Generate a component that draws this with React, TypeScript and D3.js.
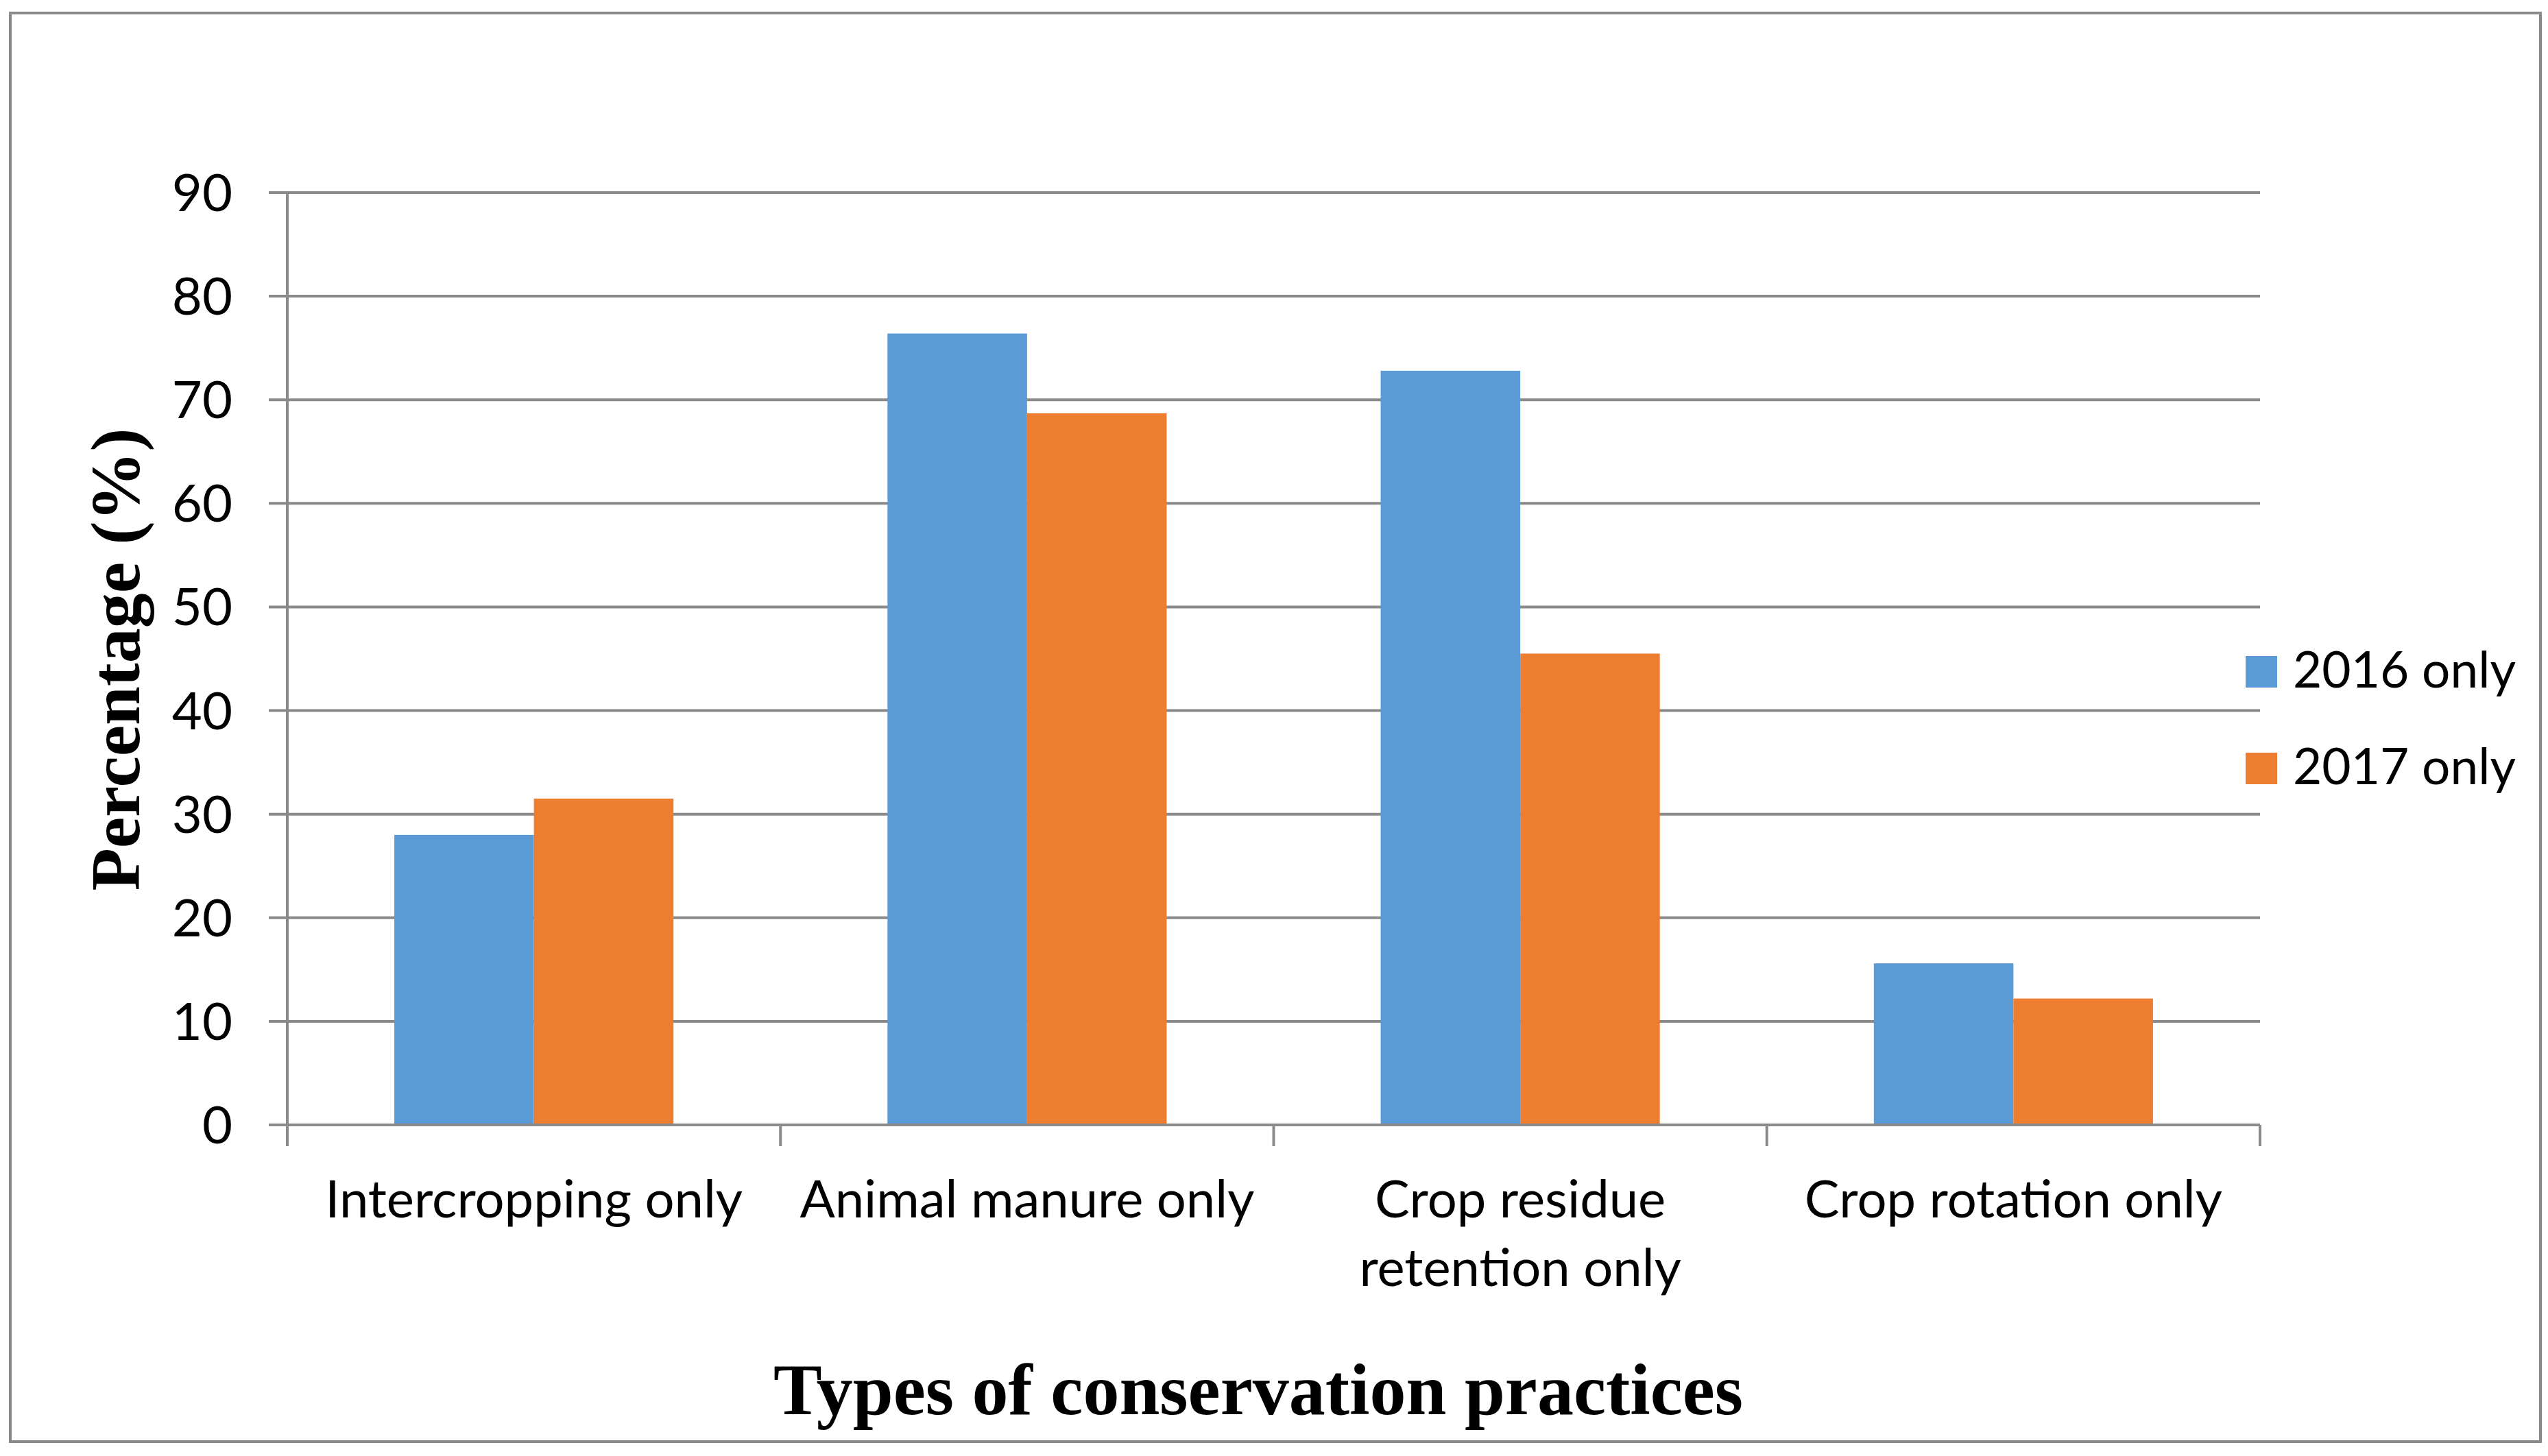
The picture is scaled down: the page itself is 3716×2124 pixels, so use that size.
import * as d3 from 'd3'

const CATEGORIES = [
  ['Intercropping only'],
  ['Animal manure only'],
  ['Crop residue', 'retention only'],
  ['Crop rotation only'],
]
const SERIES = ['2016 only', '2017 only']
const VALUES_2016 = [28.0, 76.4, 72.8, 15.6]
const VALUES_2017 = [31.5, 68.7, 45.5, 12.2]
const Y_TICKS = [0, 10, 20, 30, 40, 50, 60, 70, 80, 90]

const COLORS = ['#5B9BD5', '#ED7D31']
const GRID = '#8a8a8a'
const SANS = 'Lato, "Open Sans", sans-serif'
const SERIF = '"Liberation Serif", "DejaVu Serif", serif'

const W = 3716
const H = 2124
const plot = { left: 419, right: 3296, top: 281, bottom: 1641 }

export default function App() {
  const x = d3
    .scaleBand<number>()
    .domain(d3.range(CATEGORIES.length))
    .range([plot.left, plot.right])
    .paddingInner(0.434)
    .paddingOuter(0.217)
  const step = x.step()
  const inner = d3
    .scaleBand<number>()
    .domain(d3.range(SERIES.length))
    .range([0, x.bandwidth()])
  const y = d3.scaleLinear().domain([0, 90]).range([plot.bottom, plot.top])
  const series = [VALUES_2016, VALUES_2017]
  const catTicks = d3.range(CATEGORIES.length + 1).map((i) => plot.left + i * step)

  return (
    <svg
      width={W}
      height={H}
      style={{ position: 'absolute', left: 0, top: 0, background: '#fff' }}
    >
      <rect x={0} y={0} width={W} height={H} fill="#fff" />
      <rect
        x={15}
        y={19}
        width={3705 - 15}
        height={2103 - 19}
        fill="none"
        stroke={GRID}
        strokeWidth={4}
      />

      {/* gridlines + y ticks */}
      {Y_TICKS.map((t) => (
        <g key={t}>
          <line x1={392} x2={plot.right} y1={y(t)} y2={y(t)} stroke={GRID} strokeWidth={4} />
          <text
            x={339}
            y={y(t) + 27}
            textAnchor="end"
            fontFamily={SANS}
            fontSize={76}
            fill="#000"
          >
            {t}
          </text>
        </g>
      ))}

      {/* bars */}
      {series.map((vals, si) =>
        vals.map((v, ci) => (
          <rect
            key={`${si}-${ci}`}
            x={(x(ci) ?? 0) + (inner(si) ?? 0)}
            y={y(v)}
            width={inner.bandwidth()}
            height={y(0) - y(v)}
            fill={COLORS[si]}
          />
        )),
      )}

      {/* axes */}
      <line x1={plot.left} x2={plot.left} y1={plot.top} y2={1672} stroke={GRID} strokeWidth={4} />
      <line x1={plot.left} x2={plot.right} y1={plot.bottom} y2={plot.bottom} stroke={GRID} strokeWidth={4} />
      {catTicks.map((cx, i) => (
        <line key={i} x1={cx} x2={cx} y1={plot.bottom} y2={1672} stroke={GRID} strokeWidth={4} />
      ))}

      {/* category labels */}
      {CATEGORIES.map((lines, ci) => (
        <text
          key={ci}
          x={(x(ci) ?? 0) + x.bandwidth() / 2}
          textAnchor="middle"
          fontFamily={SANS}
          fontSize={76}
          fill="#000"
        >
          {lines.map((l, li) => (
            <tspan key={li} x={(x(ci) ?? 0) + x.bandwidth() / 2} y={1776 + li * 100}>
              {l}
            </tspan>
          ))}
        </text>
      ))}

      {/* axis titles */}
      <text
        transform="translate(203, 962) rotate(-90)"
        textAnchor="middle"
        fontFamily={SERIF}
        fontWeight="bold"
        fontSize={102}
        fill="#000"
      >
        Percentage (%)
      </text>
      <text
        x={1835}
        y={2063}
        textAnchor="middle"
        fontFamily={SERIF}
        fontWeight="bold"
        fontSize={106}
        fill="#000"
      >
        Types of conservation practices
      </text>

      {/* legend */}
      {SERIES.map((s, i) => (
        <g key={s} transform={`translate(3275, ${957 + i * 141})`}>
          <rect width={46} height={46} fill={COLORS[i]} />
          <text x={69} y={46} fontFamily={SANS} fontSize={73} fill="#000">
            {s}
          </text>
        </g>
      ))}
    </svg>
  )
}
